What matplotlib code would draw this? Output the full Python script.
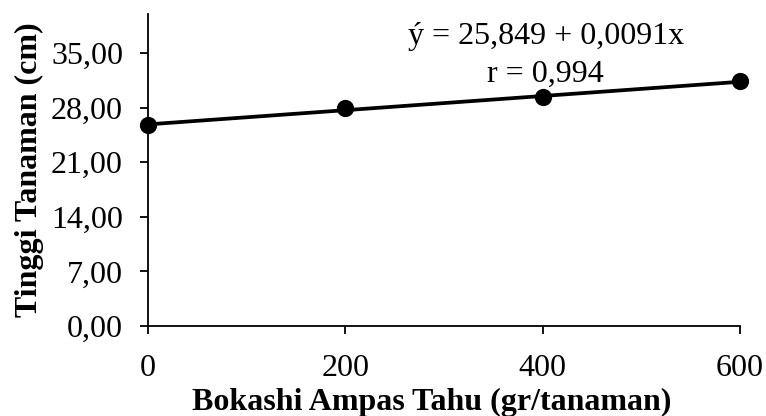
import matplotlib
matplotlib.use("Agg")
import matplotlib.pyplot as plt
import numpy as np

# Bokashi dose (gr/tanaman) and mean plant height (cm)
dose = [0, 200, 400, 600]
height = [25.8, 27.9, 29.3, 31.4]

# Fitted regression
intercept = 25.849
slope = 0.0091
r_value = 0.994

y_ticks = [0, 7, 14, 21, 28, 35]
x_ticks = [0, 200, 400, 600]

plt.rcParams['font.family'] = ['Liberation Serif', 'DejaVu Serif']
FS = 23

fig = plt.figure(figsize=(7.66, 4.16), dpi=100)
ax = fig.add_axes([148 / 766, 1 - 326 / 416, 592 / 766, 312 / 416])

xs = np.array([dose[0], dose[-1]])
ax.plot(xs, intercept + slope * xs, color='black', lw=2.7, solid_capstyle='butt', zorder=2)
ax.scatter(dose, height, s=130, color='black', zorder=3, clip_on=False)

ax.set_xlim(0, 600)
ax.set_ylim(0, 40)
ax.set_xticks(x_ticks)
ax.set_yticks(y_ticks)
ax.set_yticklabels([f"{v:.2f}".replace('.', ',') for v in y_ticks])
ax.tick_params(axis='both', labelsize=FS, length=6, width=1.3, direction='out', color='black')
ax.tick_params(axis='x', pad=14)
ax.tick_params(axis='y', pad=12)

for side in ('top', 'right'):
    ax.spines[side].set_visible(False)
for side in ('left', 'bottom'):
    ax.spines[side].set_linewidth(1.3)

ax.set_xlabel('Bokashi Ampas Tahu (gr/tanaman)', fontsize=FS, fontweight='bold', labelpad=0)
ax.xaxis.set_label_coords(0.48, -0.2, transform=ax.transAxes)
ax.set_ylabel('Tinggi Tanaman (cm)', fontsize=FS, fontweight='bold', labelpad=5)

eq = f"ý = {intercept:.3f} + {slope:.4f}x".replace('.', ',')
rt = f"r = {r_value:.3f}".replace('.', ',')
ax.text(403, 37.1, eq, fontsize=FS, ha='center', va='center')
ax.text(403, 32.3, rt, fontsize=FS, ha='center', va='center')

fig.savefig('out.png', dpi=100)
